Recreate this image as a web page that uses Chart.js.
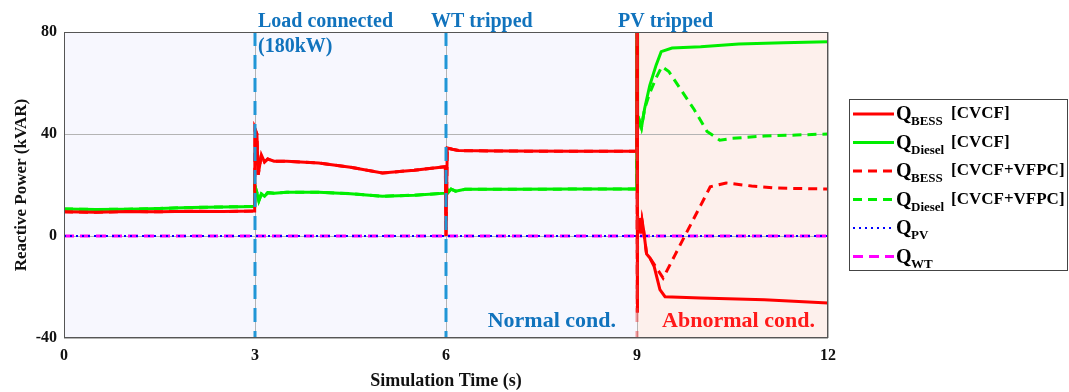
<!DOCTYPE html>
<html>
<head>
<meta charset="utf-8">
<script src="https://cdn.jsdelivr.net/npm/chart.js@4.4.0/dist/chart.umd.min.js"></script>
<style>
  html, body { margin: 0; padding: 0; background: #fff; }
  #wrap { width: 1069px; height: 392px; }
</style>
</head>
<body>
<div id="wrap"><canvas id="qChart" width="1069" height="392"></canvas></div>
<script>
// tick labels
const xTicks = [0, 3, 6, 9, 12];
const yTicks = [-40, 0, 40, 80];

// events and regions
const eventTimes = [3, 6, 9];
const eventLabels = [["Load connected", "(180kW)"], ["WT tripped"], ["PV tripped"]];
const regionLabels = ["Normal cond.", "Abnormal cond."];

// BESS, common part (both control schemes identical before the PV trip)
const tBessPre = [0, 0.5, 1, 1.5, 2, 2.5, 2.995, 3.0, 3.03, 3.05, 3.1, 3.15, 3.2, 3.3, 3.5, 4, 4.5, 5, 5.5, 5.99,
                  6.0, 6.02, 6.1, 6.2, 6.5, 7, 8, 8.995, 9.0, 9.005, 9.01, 9.02, 9.04, 9.06, 9.08, 9.1, 9.15, 9.2];
const qBessPre = [9.5, 9.3, 9.6, 9.5, 9.7, 9.6, 9.8, 42, 40, 24, 31.8, 29, 30.2, 29.3, 29.3, 28.6, 27, 24.7, 25.8, 27.2,
                  0, 34.5, 34, 33.5, 33.4, 33.3, 33.2, 33.2, 80, -30, 8, 2, 7, 1, 6, 3, -7, -8.5];
const tBessCvcfPost = [9.27, 9.36, 9.44, 10, 11, 12];
const qBessCvcfPost = [-12, -21, -23.8, -24.3, -25, -26.3];
const tBessVfpcPost = [9.41, 9.6, 9.8, 10.0, 10.15, 10.4, 10.8, 11.2, 12];
const qBessVfpcPost = [-16.5, -7.3, 2.4, 12, 19.3, 20.8, 19.6, 18.8, 18.4];

// Diesel
const tDieselPre = [0, 0.5, 1, 1.5, 2, 2.5, 2.995, 3.0, 3.03, 3.06, 3.1, 3.15, 3.2, 3.3, 3.5, 4, 4.5, 5, 5.5, 5.99,
                    6.0, 6.04, 6.08, 6.15, 6.3, 7, 8, 8.995, 9.0, 9.01, 9.04, 9.07, 9.12];
const qDieselPre = [10.6, 10.4, 10.5, 10.8, 11.2, 11.4, 11.6, 19.6, 17, 13.8, 16.5, 15.6, 17, 16.8, 17.2, 17.2, 16.6, 15.6, 16, 16.8,
                    19.5, 17.2, 18.4, 17.6, 18.3, 18.3, 18.4, 18.4, 80, 42, 45, 42.5, 50];
const tDieselCvcfPost = [9.2, 9.3, 9.38, 9.55, 10, 10.6, 11.3, 12];
const qDieselCvcfPost = [59, 67, 72.3, 73.7, 74.2, 75.3, 75.8, 76.2];
const tDieselVfpcPost = [9.2, 9.3, 9.39, 9.5, 9.7, 9.9, 10.1, 10.3, 10.5, 11, 11.5, 12];
const qDieselVfpcPost = [56, 62, 66.4, 64.5, 57, 49.5, 41, 37.6, 38.3, 39.2, 39.6, 40];

// PV and WT
const tFlat = [0, 12];
const qPv = [0, 0];
const qWt = [0, 0];

const seriesSubs = ["BESS", "Diesel", "BESS", "Diesel", "PV", "WT"];
const seriesTags = ["[CVCF]", "[CVCF]", "[CVCF+VFPC]", "[CVCF+VFPC]", "", ""];

function pts(t, q) {
    return t.map((v, i) => ({ x: v, y: q[i] }));
}

const SERIF = "'Liberation Serif', 'Times New Roman', serif";
const RED = "#ff0000";
const GREEN = "#00ee00";
const EVENT_BLUE = "#2196d6";
const TEXT_BLUE = "#1173bd";

const datasets = [
    { data: pts(tBessPre.concat(tBessCvcfPost), qBessPre.concat(qBessCvcfPost)), borderColor: RED, borderWidth: 3 },
    { data: pts(tDieselPre.concat(tDieselCvcfPost), qDieselPre.concat(qDieselCvcfPost)), borderColor: GREEN, borderWidth: 3 },
    { data: pts(tBessPre.concat(tBessVfpcPost), qBessPre.concat(qBessVfpcPost)), borderColor: RED, borderWidth: 3, borderDash: [9, 6] },
    { data: pts(tDieselPre.concat(tDieselVfpcPost), qDieselPre.concat(qDieselVfpcPost)), borderColor: GREEN, borderWidth: 3, borderDash: [9, 6] },
    { data: pts(tFlat, qPv), borderColor: "#0000ff", borderWidth: 2, borderDash: [2, 4] },
    { data: pts(tFlat, qWt), borderColor: "#ff00ff", borderWidth: 3, borderDash: [10, 6] }
];
datasets.forEach((ds, i) => {
    ds.label = "Q" + seriesSubs[i] + (seriesTags[i] ? " " + seriesTags[i] : "");
    ds.pointRadius = 0;
    ds.tension = 0;
    ds.fill = false;
});

// plot backgrounds: normal / abnormal
const backdrop = {
    id: "backdrop",
    beforeDraw(chart) {
        const { ctx, chartArea: a, scales: { x } } = chart;
        ctx.save();
        ctx.fillStyle = "#f7f7fe";
        ctx.fillRect(a.left, a.top, a.right - a.left, a.bottom - a.top);
        const x9 = x.getPixelForValue(eventTimes[2]);
        ctx.fillStyle = "#fdf0ec";
        ctx.fillRect(x9, a.top, a.right - x9, a.bottom - a.top);
        ctx.restore();
    }
};

// event lines and text
const events = {
    id: "events",
    afterDatasetsDraw(chart) {
        const { ctx, chartArea: a, scales: { x } } = chart;
        ctx.save();
        ctx.lineWidth = 3;
        ctx.setLineDash([14, 9]);
        eventTimes.forEach((t, i) => {
            const px = x.getPixelForValue(t);
            ctx.strokeStyle = i < 2 ? EVENT_BLUE : "rgba(235,60,60,0.5)";
            ctx.beginPath();
            ctx.moveTo(px, a.top);
            ctx.lineTo(px, a.bottom);
            ctx.stroke();
        });
        ctx.setLineDash([]);
        ctx.strokeStyle = "#555";
        ctx.lineWidth = 1;
        ctx.strokeRect(a.left + 0.5, a.top + 0.5, a.right - a.left - 1, a.bottom - a.top - 1);

        ctx.fillStyle = TEXT_BLUE;
        ctx.font = "bold 20px " + SERIF;
        ctx.textBaseline = "alphabetic";
        ctx.textAlign = "left";
        const offs = [3, -15, -19];
        eventLabels.forEach((lines, i) => {
            const px = x.getPixelForValue(eventTimes[i]) + offs[i];
            lines.forEach((s, j) => ctx.fillText(s, px, 27 + j * 25));
        });

        ctx.font = "bold 22px " + SERIF;
        const x9 = x.getPixelForValue(eventTimes[2]);
        ctx.textAlign = "right";
        ctx.fillText(regionLabels[0], x9 - 21, 327);
        ctx.fillStyle = "#ff1a1a";
        ctx.textAlign = "center";
        ctx.fillText(regionLabels[1], (x9 + a.right) / 2 + 6, 327);
        ctx.restore();
    }
};

// legend with subscripts
const qLegend = {
    id: "qLegend",
    afterDraw(chart) {
        const ctx = chart.ctx;
        const x0 = 849, y0 = 99, w = 218, h = 171;
        ctx.save();
        ctx.fillStyle = "#fff";
        ctx.fillRect(x0, y0, w, h);
        ctx.strokeStyle = "#444";
        ctx.lineWidth = 1;
        ctx.strokeRect(x0 + 0.5, y0 + 0.5, w, h);
        chart.data.datasets.forEach((ds, i) => {
            const y = 114 + i * 28.5;
            ctx.strokeStyle = ds.borderColor;
            ctx.lineWidth = ds.borderWidth;
            ctx.setLineDash(ds.borderDash || []);
            ctx.beginPath();
            ctx.moveTo(853, y);
            ctx.lineTo(894, y);
            ctx.stroke();
            ctx.setLineDash([]);
            ctx.fillStyle = "#000";
            ctx.textBaseline = "alphabetic";
            ctx.textAlign = "left";
            ctx.font = "bold 20px " + SERIF;
            ctx.fillText("Q", 896, y + 6);
            ctx.font = "bold 13px " + SERIF;
            ctx.fillText(seriesSubs[i], 911, y + 11);
            if (seriesTags[i]) {
                ctx.font = "bold 17px " + SERIF;
                ctx.fillText(seriesTags[i], 951, y + 4);
            }
        });
        ctx.restore();
    }
};

const tickFont = { family: SERIF, size: 16, weight: "bold" };

new Chart(document.getElementById("qChart"), {
    type: "line",
    data: { datasets: datasets },
    plugins: [backdrop, events, qLegend],
    options: {
        responsive: false,
        animation: false,
        devicePixelRatio: 1,
        layout: { padding: { top: 32, right: 241, left: 0, bottom: 0 } },
        plugins: { legend: { display: false }, tooltip: { enabled: false } },
        scales: {
            x: {
                type: "linear",
                min: 0,
                max: 12,
                afterBuildTicks: s => { s.ticks = xTicks.map(v => ({ value: v })); },
                afterFit: s => { s.height = 54; },
                ticks: { font: tickFont, color: "#111", padding: 8, maxRotation: 0 },
                grid: { color: "#b4b4b4", drawTicks: false },
                border: { display: false },
                title: { display: true, text: "Simulation Time (s)", color: "#111",
                         font: { family: SERIF, size: 18, weight: "bold" }, padding: { top: 0, bottom: 0 } }
            },
            y: {
                min: -40,
                max: 80,
                afterBuildTicks: s => { s.ticks = yTicks.map(v => ({ value: v })); },
                afterFit: s => { s.width = 64; },
                ticks: { font: tickFont, color: "#111", padding: 7 },
                grid: { color: "#b4b4b4", drawTicks: false },
                border: { display: false },
                title: { display: true, text: "Reactive Power (kVAR)", color: "#111",
                         font: { family: SERIF, size: 17, weight: "bold" }, padding: { top: 11, bottom: 0 } }
            }
        }
    }
});
</script>
</body>
</html>
